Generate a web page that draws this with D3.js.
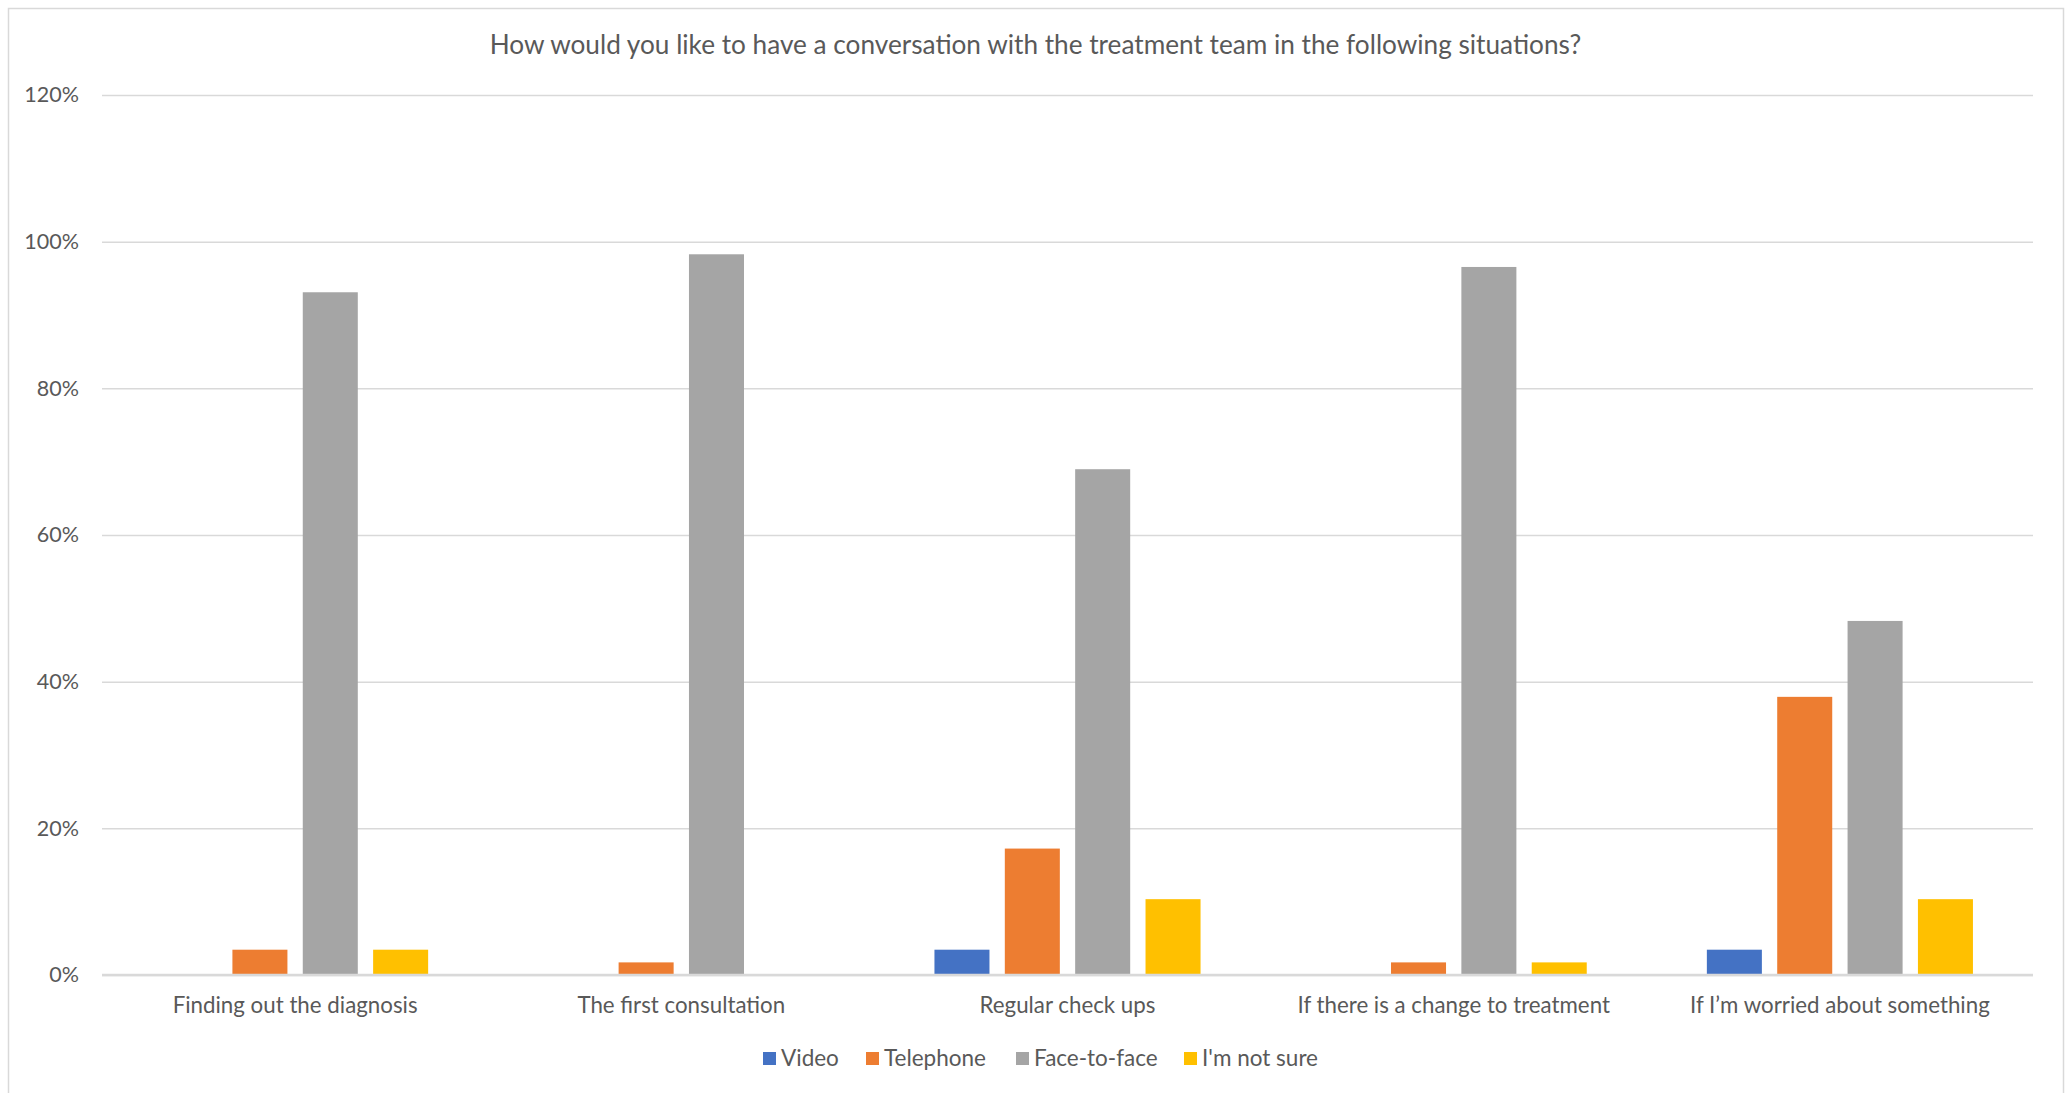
<!DOCTYPE html>
<html>
<head>
<meta charset="utf-8">
<script src="https://cdn.jsdelivr.net/npm/d3@7"></script>
<style>
  html, body { margin: 0; padding: 0; background: #fff; }
  svg { display: block; }
  text { font-family: Lato, "Open Sans", sans-serif; fill: #595959; }
</style>
</head>
<body>
<svg id="chart" width="2069" height="1093"></svg>
<script>
// Survey answers: share of respondents per situation and preferred channel
const situations = [
  "Finding out the diagnosis",
  "The first consultation",
  "Regular check ups",
  "If there is a change to treatment",
  "If I\u2019m worried about something"
];
const seriesNames = ["Video", "Telephone", "Face-to-face", "I'm not sure"];
const seriesColors = ["#4472C4", "#ED7D31", "#A5A5A5", "#FFC000"];
const video       = [0,     0,     3.45,  0,     3.45];
const telephone   = [3.45,  1.72,  17.24, 1.72,  37.93];
const faceToFace  = [93.10, 98.28, 68.97, 96.55, 48.28];
const notSure     = [3.45,  0,     10.34, 1.72,  10.34];
const yTicks = [0, 20, 40, 60, 80, 100, 120];
const title = "How would you like to have a conversation with the treatment team in the following situations?";

const seriesValues = [video, telephone, faceToFace, notSure];

const plot = { left: 102, right: 2033, top: 95, bottom: 975 };

const svg = d3.select("#chart");

// chart area frame
svg.append("rect")
  .attr("x", 8.5).attr("y", 8.5)
  .attr("width", 2055).attr("height", 1100)
  .attr("fill", "#fff").attr("stroke", "#d9d9d9").attr("stroke-width", 1.5);

const y = d3.scaleLinear().domain([0, 120]).range([plot.bottom, plot.top]);
const x0 = d3.scaleBand().domain(situations)
  .range([plot.left, plot.right]).paddingInner(0.311).paddingOuter(0.1555);
const x1 = d3.scaleBand().domain(seriesNames)
  .range([0, x0.bandwidth()]).paddingInner(0.218).paddingOuter(0);

// gridlines and percentage labels
const yAxis = d3.axisLeft(y).tickValues(yTicks)
  .tickFormat(d => d + "%").tickSize(-(plot.right - plot.left)).tickPadding(23);
const gy = svg.append("g").attr("transform", `translate(${plot.left},0)`).call(yAxis);
gy.select(".domain").remove();
gy.selectAll(".tick line").attr("stroke", "#d9d9d9").attr("stroke-width", 1.5);
gy.selectAll(".tick text")
  .attr("font-size", 21.5).attr("fill", "#595959")
  .style("font-family", "Lato, 'Open Sans', sans-serif");

// bars
const groups = svg.append("g").selectAll("g")
  .data(situations)
  .join("g")
  .attr("transform", d => `translate(${x0(d)},0)`);

groups.selectAll("rect")
  .data((d, i) => seriesNames.map((s, k) => ({ s, k, v: seriesValues[k][i] })))
  .join("rect")
  .attr("x", d => x1(d.s))
  .attr("width", x1.bandwidth())
  .attr("y", d => y(d.v))
  .attr("height", d => y(0) - y(d.v))
  .attr("fill", d => seriesColors[d.k]);

// category axis
const xAxis = d3.axisBottom(x0).tickSize(0).tickPadding(22);
const gx = svg.append("g").attr("transform", `translate(0,${plot.bottom})`).call(xAxis);
gx.select(".domain").attr("stroke", "#d9d9d9").attr("stroke-width", 2.5)
  .attr("d", `M${plot.left},0H${plot.right}`);
gx.selectAll(".tick text")
  .attr("font-size", 22.3).attr("fill", "#595959")
  .style("font-family", "Lato, 'Open Sans', sans-serif");

// title
svg.append("text")
  .attr("x", 1035.5).attr("y", 54)
  .attr("text-anchor", "middle")
  .attr("font-size", 26.2)
  .text(title);

// legend
const legendX = [763, 866, 1016, 1184];
const legend = svg.append("g").selectAll("g")
  .data(seriesNames)
  .join("g")
  .attr("transform", (d, i) => `translate(${legendX[i]},1052)`);
legend.append("rect").attr("width", 13).attr("height", 13)
  .attr("fill", (d, i) => seriesColors[i]);
legend.append("text").attr("x", 18).attr("y", 14)
  .attr("font-size", 22.5).text(d => d);
</script>
</body>
</html>
